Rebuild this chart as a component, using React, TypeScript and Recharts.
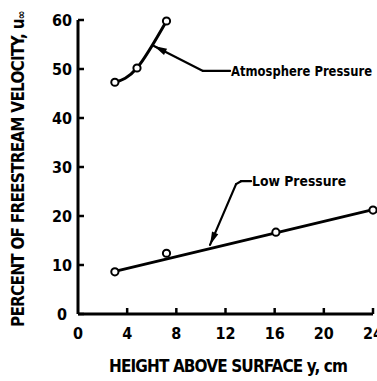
import { ComposedChart, Line, Scatter, XAxis, YAxis, ReferenceLine } from "recharts";

// Height above surface (cm) and percent of freestream velocity
const heightTicks = [0, 4, 8, 12, 16, 20, 24];
const pctTicks = [0, 10, 20, 30, 40, 50, 60];

const atmHeight = [3, 4.8, 7.2];
const atmPct = [47.3, 50.2, 59.8];

const lowHeight = [3, 7.2, 16.1, 24];
const lowPct = [8.6, 12.4, 16.7, 21.2];

// straight-line fit drawn through the low-pressure points
const lowFitHeight = [3, 24];
const lowFitPct = [8.7, 21.3];

// leader lines for the two curve labels (first point = arrow tip)
const atmLeader = [
  [6.18, 54.7],
  [10.17, 49.6],
  [12.37, 49.6],
];
const lowLeader = [
  [10.74, 14.1],
  [12.86, 26.5],
  [13.26, 27.1],
  [14.08, 27.1],
];

const atmData = atmHeight.map((h, i) => ({ h, v: atmPct[i] }));
const lowData = lowHeight.map((h, i) => ({ h, v: lowPct[i] }));
const lowFit = lowFitHeight.map((h, i) => ({ h, v: lowFitPct[i] }));

const FONT = "'Liberation Sans Narrow', 'DejaVu Sans Condensed', sans-serif";
const INK = "#000";

const toSegments = (pts: number[][]) =>
  pts.slice(1).map((p, i) => [
    { x: pts[i][0], y: pts[i][1] },
    { x: p[0], y: p[1] },
  ]);

const YTick = (props: any) => {
  const { x, y, payload } = props;
  return (
    <g>
      <line x1={x} x2={x + 6} y1={y} y2={y} stroke={INK} strokeWidth={2.5} />
      <text x={x - 16} y={y} textAnchor="middle" dominantBaseline="central"
        fontFamily={FONT} fontWeight="bold" fontSize={16} fill={INK}>
        {payload.value}
      </text>
    </g>
  );
};

const XTick = (props: any) => {
  const { x, y, payload } = props;
  return (
    <g>
      {payload.value !== 0 && <line x1={x} x2={x} y1={y} y2={y - 6} stroke={INK} strokeWidth={2.5} />}
      <text x={x} y={y + 19} textAnchor="middle" dominantBaseline="central"
        fontFamily={FONT} fontWeight="bold" fontSize={16} fill={INK}>
        {payload.value}
      </text>
    </g>
  );
};

// leader line; the arrowhead sits on the first point
const Leader = (props: any) => {
  const { x1, y1, x2, y2, arrow } = props;
  const a = Math.atan2(y2 - y1, x2 - x1);
  const len = 13;
  const hw = 3.4;
  const bx = x1 + Math.cos(a) * len;
  const by = y1 + Math.sin(a) * len;
  const px = -Math.sin(a) * hw;
  const py = Math.cos(a) * hw;
  return (
    <g>
      <line x1={x1} y1={y1} x2={x2} y2={y2} stroke={INK} strokeWidth={2.2} strokeLinecap="round" />
      {arrow && (
        <polygon points={`${x1},${y1} ${bx + px},${by + py} ${bx - px},${by - py}`} fill={INK} />
      )}
    </g>
  );
};

const sideLabel = (text: string, width: number) => (props: any) => {
  const vb = props.viewBox;
  return (
    <text x={vb.x + vb.width + 1} y={vb.y + vb.height / 2} dominantBaseline="central"
      fontFamily={FONT} fontWeight="bold" fontSize={14} fill={INK}
      textLength={width} lengthAdjust="spacingAndGlyphs">
      {text}
    </text>
  );
};

const yTitle = (props: any) => {
  const vb = props.viewBox;
  return (
    <text transform={`translate(${vb.x + 18},${vb.y + vb.height / 2 + 2}) rotate(-90)`}
      textAnchor="middle" dominantBaseline="central"
      fontFamily={FONT} fontWeight="bold" fontSize={17} fill={INK}
      textLength={316} lengthAdjust="spacing">
      PERCENT OF FREESTREAM VELOCITY, u
      <tspan fontSize={11} dy={3}>∞</tspan>
    </text>
  );
};

const xTitle = (props: any) => {
  const vb = props.viewBox;
  return (
    <text x={vb.x + vb.width / 2 + 3} y={366} textAnchor="middle" dominantBaseline="central"
      fontFamily={FONT} fontWeight="bold" fontSize={17} fill={INK}
      textLength={239} lengthAdjust="spacing">
      HEIGHT ABOVE SURFACE y, cm
    </text>
  );
};

const ringDot = (props: any) => (
  <circle key={`${props.cx}-${props.cy}`} cx={props.cx} cy={props.cy} r={3.6}
    fill="#fff" stroke={INK} strokeWidth={2} />
);

export default function App() {
  const atmSegs = toSegments(atmLeader);
  const lowSegs = toSegments(lowLeader);
  return (
    <div style={{ position: "absolute", left: 0, top: 0, background: "#fff" }}>
      <ComposedChart width={377} height={381} margin={{ top: 20, right: 4, bottom: 0, left: 0 }}>
        <XAxis type="number" dataKey="h" domain={[0, 24]} ticks={heightTicks} interval={0}
          height={67} tickSize={0} tickMargin={0} tick={<XTick />}
          axisLine={{ stroke: INK, strokeWidth: 3 }} label={{ content: xTitle }} />
        <YAxis type="number" dataKey="v" domain={[0, 60]} ticks={pctTicks} interval={0}
          width={78} tickSize={0} tickMargin={0} tick={<YTick />}
          axisLine={{ stroke: INK, strokeWidth: 3 }} label={{ content: yTitle }} />

        <Line data={lowFit} dataKey="v" type="linear" stroke={INK} strokeWidth={3}
          dot={false} isAnimationActive={false} />
        <Line data={atmData} dataKey="v" type="natural" stroke={INK} strokeWidth={3}
          dot={ringDot} isAnimationActive={false} />
        <Scatter data={lowData} dataKey="v" shape={ringDot} isAnimationActive={false} />

        {atmSegs.map((s, i) => (
          <ReferenceLine key={`a${i}`} segment={s} ifOverflow="visible"
            shape={(p: any) => <Leader {...p} arrow={i === 0} />}
            label={i === atmSegs.length - 1 ? { content: sideLabel("Atmosphere Pressure", 141) } : undefined} />
        ))}
        {lowSegs.map((s, i) => (
          <ReferenceLine key={`l${i}`} segment={s} ifOverflow="visible"
            shape={(p: any) => <Leader {...p} arrow={i === 0} />}
            label={i === lowSegs.length - 1 ? { content: sideLabel("Low Pressure", 94) } : undefined} />
        ))}
      </ComposedChart>
    </div>
  );
}
